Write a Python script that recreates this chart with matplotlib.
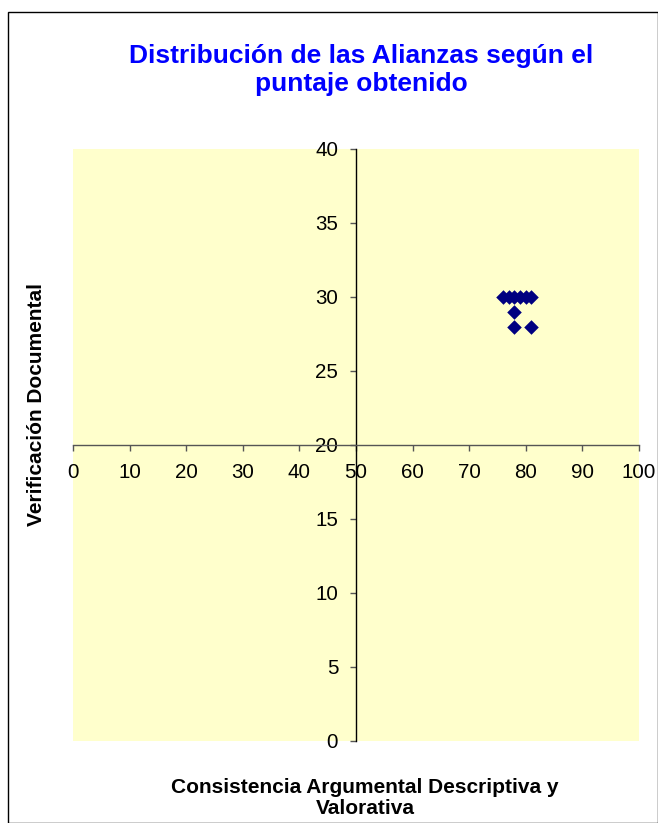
import matplotlib
matplotlib.use("Agg")
import matplotlib.pyplot as plt
from matplotlib.patches import Rectangle

plt.rcParams['font.family'] = ['Liberation Sans', 'DejaVu Sans']

x_vals = [76, 77, 78, 79, 80, 81, 78, 78, 81]
y_vals = [30, 30, 30, 30, 30, 30, 29, 28, 28]
x_ticks = [0, 10, 20, 30, 40, 50, 60, 70, 80, 90, 100]
y_ticks = [0, 5, 10, 15, 20, 25, 30, 35, 40]

title = "Distribución de las Alianzas según el\npuntaje obtenido"
xlabel = "Consistencia Argumental Descriptiva y\nValorativa"
ylabel = "Verificación Documental"

fig = plt.figure(figsize=(6.58, 8.23), dpi=100)
fig.patches.append(Rectangle((8/658, 0.0), 1 - 8/658 - 0.5/658, 1 - 12/823,
                             transform=fig.transFigure, fill=False,
                             edgecolor='black', linewidth=1.0))
ax = fig.add_axes([73/658, 1 - 741/823, (639 - 73)/658, (741 - 149)/823])
ax.set_facecolor('#FFFFCC')
ax.set_xlim(0, 100)
ax.set_ylim(0, 40)

ax.scatter(x_vals, y_vals, marker='D', s=55, color='#000080', zorder=3, linewidths=0)

ax.spines['left'].set_position(('data', 50))
ax.spines['bottom'].set_position(('data', 20))
ax.spines['top'].set_visible(False)
ax.spines['right'].set_visible(False)
ax.spines['left'].set_color('black')
ax.spines['bottom'].set_color('#555555')
for s in ('left', 'bottom'):
    ax.spines[s].set_linewidth(1.0)

ax.set_xticks(x_ticks)
ax.set_yticks(y_ticks)
ax.tick_params(axis='both', direction='out', length=4.3, width=1.0, labelsize=14.8, labelcolor='black')
ax.tick_params(axis='x', pad=8.5, color='#555555')
ax.tick_params(axis='y', pad=8.5, color='#555555')

fig.text(361/658, 1 - 70/823, title, ha='center', va='center', color='#0000FF',
         fontsize=19, fontweight='bold', linespacing=1.2)
fig.text(365/658, 1 - 798/823, xlabel, ha='center', va='center', color='black',
         fontsize=15, fontweight='bold', linespacing=1.12)
fig.text(37/658, 1 - 405/823, ylabel, ha='center', va='center', color='black',
         fontsize=15, fontweight='bold', rotation=90)

fig.savefig('out.png', dpi=100)
